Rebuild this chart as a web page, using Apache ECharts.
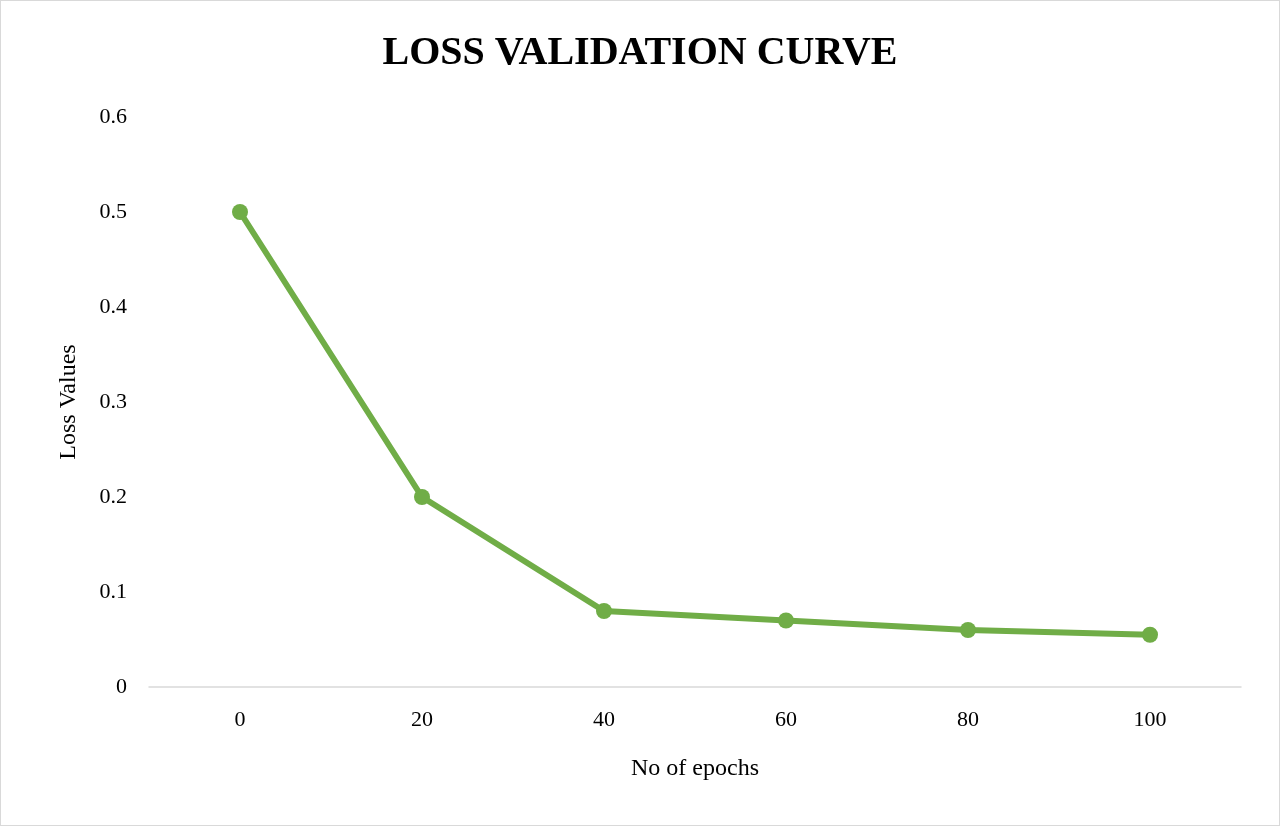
<!DOCTYPE html>
<html><head><meta charset="utf-8">
<script src="https://cdn.jsdelivr.net/npm/echarts@6/dist/echarts.min.js"></script>
<style>html,body{margin:0;padding:0;background:#fff}#c{width:1278px;height:824px;border:1px solid #d9d9d9}</style>
</head><body><div id="c"></div>
<script>
const epochs = ['0','20','40','60','80','100'];
const lossValues = [0.5, 0.2, 0.08, 0.07, 0.06, 0.055];
const chart = echarts.init(document.getElementById('c'));
const font = '"Liberation Serif","Times New Roman",serif';
chart.setOption({
  animation:false,
  title:{text:'LOSS VALIDATION CURVE',left:'center',top:28,textStyle:{fontFamily:font,fontSize:40,fontWeight:'bold',color:'#000'}},
  grid:{left:148,right:38,top:116,bottom:138},
  xAxis:{type:'category',data:epochs,boundaryGap:true,
    axisLine:{lineStyle:{color:'#d9d9d9',width:1.5}},axisTick:{show:false},
    axisLabel:{fontFamily:font,fontSize:22,color:'#000',margin:22},
    name:'No of epochs',nameLocation:'middle',nameGap:70,nameTextStyle:{fontFamily:font,fontSize:24,color:'#000'}},
  yAxis:{type:'value',min:0,max:0.6,interval:0.1,
    splitLine:{show:false},axisLine:{show:false},axisTick:{show:false},
    axisLabel:{fontFamily:font,fontSize:22,color:'#000',margin:22},
    name:'Loss Values',nameLocation:'middle',nameGap:68,nameTextStyle:{fontFamily:font,fontSize:24,color:'#000'}},
  series:[{type:'line',data:lossValues,symbol:'circle',symbolSize:16,
    lineStyle:{color:'#70ad47',width:6},itemStyle:{color:'#70ad47'}}]
});
</script></body></html>
